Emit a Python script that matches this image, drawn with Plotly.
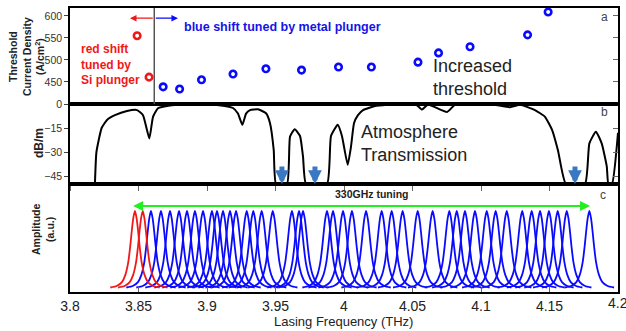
import plotly.graph_objects as go

# ---------------- data ----------------
# (a) threshold current density
thr_red_f = [3.849, 3.8577]
thr_red = [555, 461]
thr_blue_f = [3.868, 3.880, 3.896, 3.919, 3.943, 3.969, 3.996, 4.020, 4.054, 4.069, 4.092, 4.134, 4.149]
thr_blue = [439, 434, 455, 468, 480, 477, 484, 484, 495, 516, 530, 557, 609]
thr_ticks = [400, 450, 500, 550, 600]
thr_ticklabels = ["0", "450", "500", "550", "600"]
plunger_split_f = 3.8615

# (b) atmosphere transmission (dB/m)
atm_freq = [3.8182, 3.8193, 3.8231, 3.8270, 3.8328, 3.8416, 3.8489, 3.8533, 3.8579, 3.8606,
            3.8642, 3.8730, 3.8949, 3.9073, 3.9190, 3.9226, 3.9258, 3.9285, 3.9314, 3.9372,
            3.9431, 3.9460, 3.9487, 3.9504,
            3.9584, 3.9606, 3.9640, 3.9679, 3.9701, 3.9723,
            3.9876, 3.9905, 3.9954, 3.9985, 4.0027, 4.0051, 4.0073, 4.0102, 4.0139, 4.0226,
            4.0409, 4.0526, 4.0569, 4.0613, 4.0752, 4.0810, 4.1066, 4.1212, 4.1285, 4.1394,
            4.1467, 4.1518, 4.1562, 4.1620,
            4.1759, 4.1791, 4.1839, 4.1881, 4.1918, 4.1930,
            4.1956, 4.2000]
atm_db = [-50, -30, -15, -10, -7, -4.4, -3.8, -7, -21.5, -8,
          -2.7, -0.9, 0, -0.6, -2.5, -6, -13, -6, -3.8, -3.3,
          -5.8, -12, -28.7, -50,
          -50, -20.4, -15.8, -20, -33, -50,
          -50, -20, -13, -20, -38, -26.7, -12, -7, -3.8, -1.3,
          0, -0.3, -3.5, -0.3, -5, -0.5, 0, -2, -0.5, -3.8,
          -8, -16, -29, -50,
          -50, -24.6, -17.3, -24.6, -39, -50,
          -50, -18]
atm_ticks = [0, -15, -30, -45]
absorption_arrow_f = [3.9547, 3.9788, 4.1686]

# (c) lasing spectra: peak centres (THz) and a typical line shape
red_peaks = [3.8474, 3.8531]
blue_peaks = [3.8591, 3.8664, 3.8730, 3.8796, 3.8854, 3.8912, 3.8971, 3.9036, 3.9073, 3.9117,
              3.9168, 3.9212, 3.9290, 3.9338, 3.9399, 3.9480, 3.9620, 3.9672, 3.9701, 3.9876,
              3.9920, 3.9993, 4.0058, 4.0161, 4.0275, 4.0348, 4.0428, 4.0538, 4.0647, 4.0769,
              4.0823, 4.0883, 4.0956, 4.1042, 4.1107, 4.1188, 4.1301, 4.1370, 4.1431, 4.1496,
              4.1560, 4.1626, 4.1791]
shape_df = [-0.018, -0.013, -0.0095, -0.007, -0.005, -0.0035, -0.0025, -0.0012, 0,
            0.0012, 0.0025, 0.0035, 0.005, 0.007, 0.0095, 0.013, 0.018]
shape_amp = [0.05, 0.07, 0.11, 0.19, 0.32, 0.50, 0.65, 0.82, 0.90,
             0.82, 0.65, 0.50, 0.32, 0.19, 0.11, 0.07, 0.05]
tuning_span = [3.845, 4.1796]

x_ticks = [3.8, 3.85, 3.9, 3.95, 4.0, 4.05, 4.1, 4.15, 4.2]
x_ticklabels = ["3.8", "3.85", "3.9", "3.95", "4", "4.05", "4.1", "4.15", "4.2"]

# ---------------- figure ----------------
FONT = "Liberation Sans, Arial, sans-serif"
RED = "#f01818"
BLUE = "#0a0aff"
W, H = 626, 331
L, R, T, B = 70, 8, 8, 39
PW, PH = W - L - R, H - T - B


def px(xp):
    return (xp - L) / PW


def py(yp):
    return (H - B - yp) / PH


dom_c = [0, py(184)]
dom_b = [py(184), py(104)]
dom_a = [py(104), 1]

fig = go.Figure()

# (a)
fig.add_trace(go.Scatter(x=thr_red_f, y=thr_red, mode="markers", xaxis="x", yaxis="y",
                         marker=dict(symbol="circle-open", size=6.5, color=RED, line=dict(width=2.6, color=RED)),
                         showlegend=False, cliponaxis=False))
fig.add_trace(go.Scatter(x=thr_blue_f, y=thr_blue, mode="markers", xaxis="x", yaxis="y",
                         marker=dict(symbol="circle-open", size=6.5, color=BLUE, line=dict(width=2.6, color=BLUE)),
                         showlegend=False, cliponaxis=False))
# (b)
fig.add_trace(go.Scatter(x=atm_freq, y=atm_db, mode="lines", xaxis="x2", yaxis="y2",
                         line=dict(color="black", width=2, shape="spline", smoothing=0.45),
                         showlegend=False))
# (c)
for peaks, col in ((blue_peaks, BLUE), (red_peaks, RED)):
    for c in peaks:
        fig.add_trace(go.Scatter(x=[c + d for d in shape_df], y=shape_amp, mode="lines",
                                 xaxis="x3", yaxis="y3",
                                 line=dict(color=col, width=1.8, shape="spline", smoothing=0.8),
                                 showlegend=False))
# dummy traces for right-side tick axes
fig.add_trace(go.Scatter(x=[3.9], y=[500], xaxis="x", yaxis="y4", mode="markers",
                         marker=dict(opacity=0), showlegend=False, hoverinfo="skip"))
fig.add_trace(go.Scatter(x=[3.9], y=[-20], xaxis="x2", yaxis="y5", mode="markers",
                         marker=dict(opacity=0), showlegend=False, hoverinfo="skip"))

axis_common = dict(showline=True, linecolor="black", linewidth=1.5, mirror=True, automargin=False,
                   showgrid=False, zeroline=False, range=[3.8, 4.2])
tickfont = dict(family=FONT, size=10.5, color="#333")

fig.update_layout(
    template="none",
    width=W, height=H,
    margin=dict(l=L, r=R, t=T, b=B),
    paper_bgcolor="white", plot_bgcolor="white",
    font=dict(family=FONT, color="#222"),
    xaxis=dict(axis_common, anchor="y", domain=[0, 1], showticklabels=False, ticks=""),
    xaxis2=dict(axis_common, anchor="y2", domain=[0, 1], showticklabels=False, ticks="outside",
                ticklen=5, tickcolor="#666", tickvals=x_ticks),
    xaxis3=dict(axis_common, anchor="y3", domain=[0, 1], ticks="inside", ticklen=5, tickcolor="#666",
                tickvals=x_ticks[:-1], ticktext=x_ticklabels[:-1],
                tickfont=dict(family=FONT, size=14, color="#222")),
    yaxis=dict(domain=dom_a, anchor="x", range=[400, 618], tickvals=thr_ticks, ticktext=thr_ticklabels,
               ticks="outside", ticklen=4, tickcolor="#444", tickfont=tickfont, automargin=False,
               showline=True, linecolor="black", linewidth=1.5, mirror=True,
               showgrid=False, zeroline=False),
    yaxis2=dict(domain=dom_b, anchor="x2", range=[-50, 0], tickvals=atm_ticks[1:],
                ticks="outside", ticklen=4, tickcolor="#444", tickfont=tickfont, automargin=False,
                showline=True, linecolor="black", linewidth=1.5, mirror=True,
                showgrid=False, zeroline=False),
    yaxis3=dict(domain=dom_c, anchor="x3", range=[0, 1.2], showticklabels=False, ticks="",
                showline=True, linecolor="black", linewidth=1.5, mirror=True, automargin=False,
                showgrid=False, zeroline=False),
    yaxis4=dict(overlaying="y", anchor="x", side="right", range=[400, 618], tickvals=thr_ticks[1:],
                ticks="inside", ticklen=5, tickcolor="#666", showticklabels=False, automargin=False,
                showgrid=False, zeroline=False, showline=False),
    yaxis5=dict(overlaying="y2", anchor="x2", side="right", range=[-50, 0], tickvals=atm_ticks[1:],
                ticks="inside", ticklen=5, tickcolor="#666", showticklabels=False, automargin=False,
                showgrid=False, zeroline=False, showline=False),
)

# divider between red / blue tuning in (a)
fig.add_shape(type="line", xref="x", yref="y", x0=plunger_split_f, x1=plunger_split_f, y0=400, y1=618,
              line=dict(color="#555", width=1.5))

ann = []
# arrows in (a)
ann.append(dict(xref="x", yref="y", axref="x", ayref="y", x=3.8438, y=595, ax=plunger_split_f, ay=595,
                text="", showarrow=True, arrowhead=2, arrowsize=1, arrowwidth=1.3, arrowcolor=RED))
ann.append(dict(xref="x", yref="y", axref="x", ayref="y", x=3.8788, y=595, ax=plunger_split_f, ay=595,
                text="", showarrow=True, arrowhead=2, arrowsize=1, arrowwidth=1.3, arrowcolor=BLUE))
# absorption arrows in (b)
for f in absorption_arrow_f:
    ann.append(dict(xref="x2", yref="y2", x=f, y=-50, ax=0, ay=-19, text="", showarrow=True,
                    arrowhead=2, arrowsize=0.55, arrowwidth=5, arrowcolor="#3a78c2", standoff=0))
# tuning arrow in (c)
ann.append(dict(xref="x3", yref="y3", axref="x3", ayref="y3", x=tuning_span[1], y=0.955,
                ax=tuning_span[0], ay=0.955, text="", showarrow=True, arrowhead=2, arrowside="end+start",
                arrowsize=1, arrowwidth=2, arrowcolor="#22ee22"))


def label(xp, yp, text, size, color="#222", bold=False, xanchor="center", angle=0, align="center"):
    return dict(xref="paper", yref="paper", x=px(xp), y=py(yp), xanchor=xanchor, yanchor="middle",
                align=align, textangle=angle, showarrow=False,
                text=f"<b>{text}</b>" if bold else text, font=dict(family=FONT, size=size, color=color))


ann += [
    label(182, 27, "blue shift tuned by metal plunger", 12.5, "#1414e6", True, "left"),
    label(79, 65, "red shift<br>tuned by<br>Si plunger", 12, RED, True, "left", align="left"),
    label(431, 77.5, "Increased<br>threshold", 18, "#222", False, "left", align="left"),
    label(359, 143.5, "Atmosphere<br>Transmission", 18, "#222", False, "left", align="left"),
    label(604, 17, "a", 12, "#444"),
    label(604, 112, "b", 12, "#444"),
    label(603, 195, "c", 12, "#444"),
    label(333, 194, "330GHz tuning", 10.5, "#222", True, "left"),
    label(26, 57, "Threshold<br>Current Density<br>(A/cm<sup>2</sup>)", 10.5, "#222", True, angle=-90),
    label(39, 143, "dB/m", 12, "#222", True, angle=-90),
    label(43, 230, "Amplitude<br>(a.u.)", 10.5, "#222", True, angle=-90),
    label(343, 321, "Lasing Frequency (THz)", 13),
    # last x tick label (sits on the right edge of the page)
    dict(xref="x3", yref="paper", x=x_ticks[-1], y=py(303), xanchor="center", yanchor="middle",
         text=x_ticklabels[-1], showarrow=False, font=dict(family=FONT, size=14, color="#222")),
]
fig.update_layout(annotations=ann)

fig.write_html("out.html", config={"displayModeBar": False},
               post_script="document.body.style.margin='0px';document.body.style.overflow='hidden';")
